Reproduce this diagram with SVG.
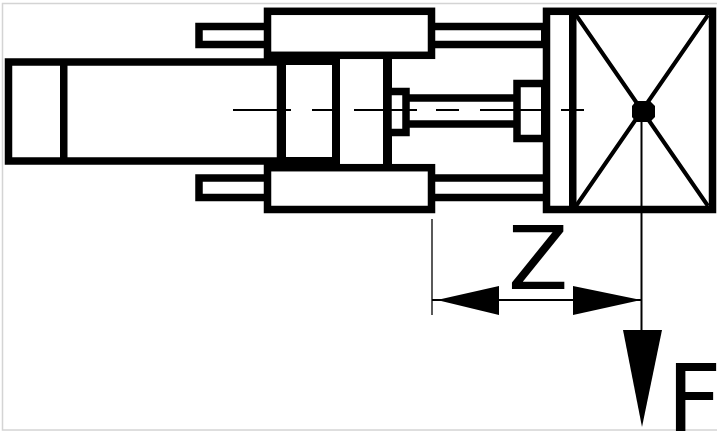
<svg xmlns="http://www.w3.org/2000/svg" width="717" height="431" viewBox="0 0 717 431">
<style>
.w{fill:#fff;stroke:#000;stroke-width:7.5}
.k{fill:#000;stroke:none}
.l{fill:none;stroke:#000;stroke-width:2}
.t{font-family:"DejaVu Sans",sans-serif;font-size:88px;fill:#000}
</style>
<rect x="0" y="0" width="717" height="431" fill="#fff"/>
<rect x="2.5" y="3.5" width="730" height="426.5" fill="none" stroke="#d4d4d4" stroke-width="1.5"/>
<g id="cylinder">
<rect class="w" x="8.500" y="62" width="272" height="99"/>
<rect class="k" x="60" y="62" width="7.500" height="99"/>
</g>
<g id="tie-rods">
<rect class="w" x="199" y="26.500" width="72" height="18"/>
<rect class="w" x="199" y="178" width="72" height="19.500"/>
<rect class="w" x="425" y="26.500" width="122" height="18"/>
<rect class="w" x="425" y="178" width="122" height="19.500"/>
</g>
<g id="piston">
<rect x="286" y="65" width="46" height="92" fill="#fff"/>
<rect x="340" y="58" width="43" height="106" fill="#fff"/>
<rect class="k" x="277" y="52" width="9" height="120"/>
<rect class="k" x="332" y="52" width="8" height="120"/>
<rect class="k" x="383" y="52" width="9" height="120"/>
<rect class="k" x="277" y="52" width="63" height="13"/>
<rect class="k" x="277" y="157" width="63" height="15"/>
</g>
<g id="blocks">
<rect class="w" x="267.500" y="11.300" width="164" height="44"/>
<rect class="w" x="267.500" y="167.700" width="164" height="41.800"/>
</g>
<g id="piston-rod">
<rect class="w" x="405" y="98" width="114" height="26"/>
<path class="w" d="M388 91.500H406V132.500H388Z"/>
<rect class="w" x="517" y="83.500" width="30" height="55"/>
</g>
<g id="head">
<rect class="k" x="541" y="23" width="5" height="25"/>
<rect class="k" x="541" y="80" width="5" height="62"/>
<rect class="w" x="546.500" y="11.300" width="166" height="198.200"/>
<rect class="k" x="569" y="11" width="7.500" height="198"/>
<path d="M576 15L708 206M708 15L576 206" fill="none" stroke="#000" stroke-width="4"/>
<path class="k" d="M636 101H650L655 106V117L650 122H636L632 117V106Z"/>
</g>
<g id="connectors">
<path class="l" d="M233 110H291M312 110H333M354 110H417M436 110H459M480 110H541M561 110H584"/>
<path class="l" d="M641.500 122V335"/>
<path d="M432 219V315" fill="none" stroke="#000" stroke-width="1.300"/>
<path d="M432 300H641" fill="none" stroke="#000" stroke-width="1.800"/>
<path class="k" d="M437 300L499 286V315Z"/>
<path class="k" d="M641 300L573 286V315Z"/>
<path class="k" d="M623 330H662L642 427Z"/>
</g>
<g id="labels">
<text class="t" x="508" y="289">Z</text>
<text class="t" x="666.600" y="434" style="font-size:96px">F</text>
</g>
</svg>
